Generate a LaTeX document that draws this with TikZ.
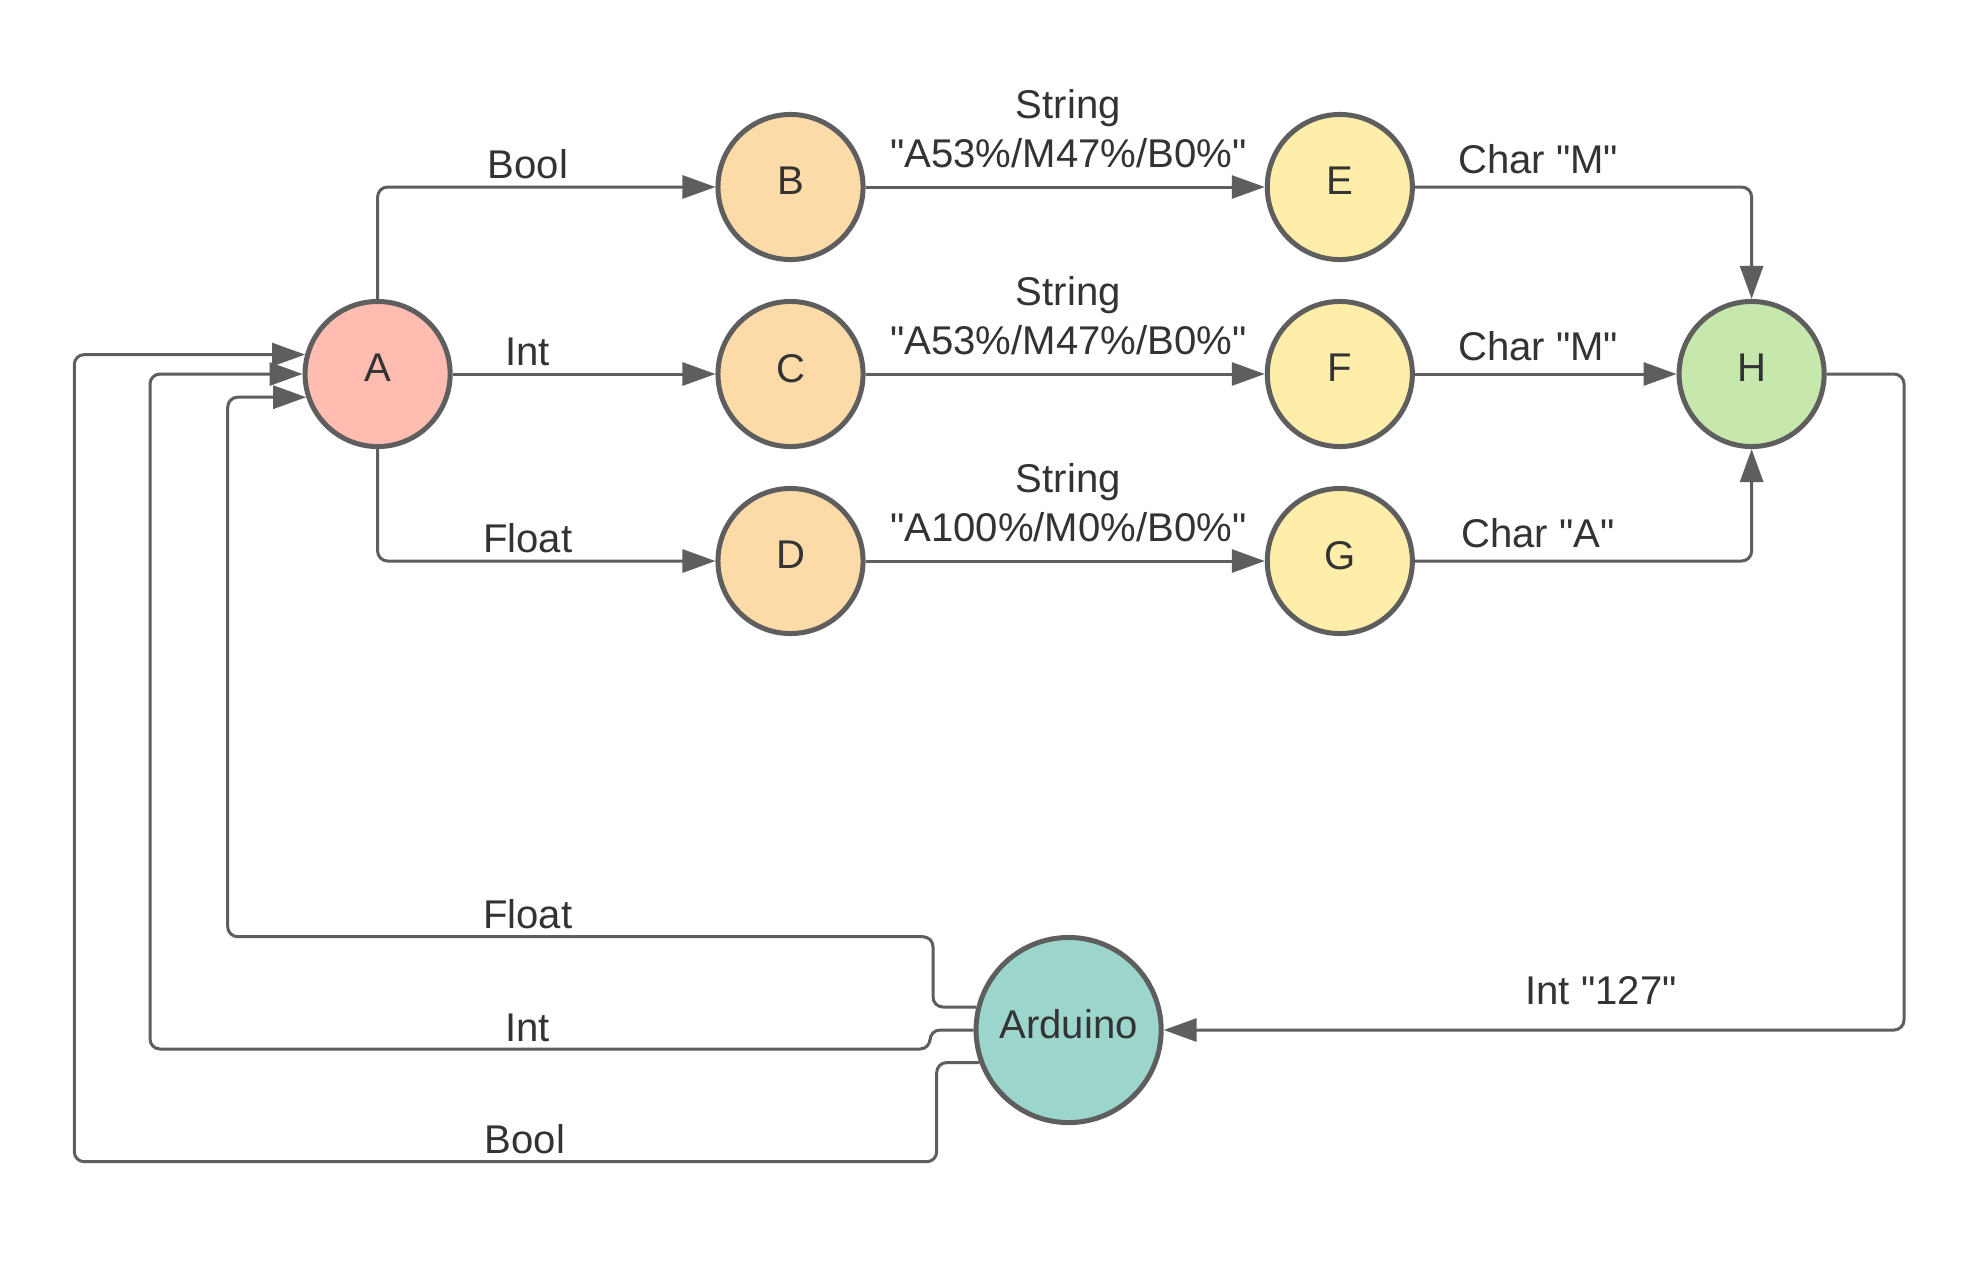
\documentclass[tikz,border=0pt]{standalone}
\usepackage{fontspec}
\setmainfont{Liberation Sans}[Ligatures=TeXOff]
\usetikzlibrary{arrows.meta}
\definecolor{linec}{HTML}{5E5E5E}
\definecolor{textc}{HTML}{333333}
\definecolor{fillA}{HTML}{FFBCB1}
\definecolor{fillB}{HTML}{FDDBA9}
\definecolor{fillE}{HTML}{FFEDAA}
\definecolor{fillH}{HTML}{C6E8AC}
\definecolor{fillR}{HTML}{9BD5CB}
\tikzset{
  state/.style={circle, draw=linec, line width=0.05cm, minimum size=1.45cm, inner sep=0pt, text depth=0.12cm, text=textc, font=\fontsize{11.4}{13.7}\selectfont},
  bigstate/.style={state, minimum size=1.85cm},
  conn/.style={draw=linec, line width=0.03cm, rounded corners=0.1cm, -{Triangle[length=0.33cm,width=0.23cm]}},
  lbl/.style={anchor=base, text=textc, font=\fontsize{11.4}{13.7}\selectfont, inner sep=0pt}
}
\begin{document}
\begin{tikzpicture}[x=0.01cm, y=-0.01cm]
\fill[white] (0,0) rectangle (1980,1275);
\useasboundingbox (0,0) rectangle (1980,1275);

\node[state, fill=fillA] (A) at (377.6,374) {A};
\node[state, fill=fillB] (B) at (790.5,187) {B};
\node[state, fill=fillB] (C) at (790.5,374) {C};
\node[state, fill=fillB] (D) at (790.5,561) {D};
\node[state, fill=fillE] (E) at (1339.8,187) {E};
\node[state, fill=fillE] (F) at (1339.8,374) {F};
\node[state, fill=fillE] (G) at (1339.8,561) {G};
\node[state, fill=fillH] (H) at (1751.6,374) {H};
\node[bigstate, fill=fillR] (R) at (1068.6,1030) {Arduino};

% A -> B, C, D
\draw[conn] (A.north) |- (B.west);
\draw[conn] (A.east) -- (C.west);
\draw[conn] (A.south) |- (D.west);
\node[lbl] (lAB) at (527.8,178) {Bool};
\node[lbl] (lAC) at (527.8,365) {Int};
\node[lbl] (lAD) at (527.8,552) {Float};

% B,C,D -> E,F,G
\draw[conn] (B.east) -- (E.west);
\draw[conn] (C.east) -- (F.west);
\draw[conn] (D.east) -- (G.west);
\node[lbl] (lBE1) at (1068.3,118.5) {String};
\node[lbl] (lBE2) at (1068.3,167) {"A53\%/M47\%/B0\%"};
\node[lbl] (lCF1) at (1068.3,305.5) {String};
\node[lbl] (lCF2) at (1068.3,354) {"A53\%/M47\%/B0\%"};
\node[lbl] (lDG1) at (1068.3,492.5) {String};
\node[lbl] (lDG2) at (1068.3,541) {"A100\%/M0\%/B0\%"};

% E,F,G -> H
\draw[conn] (E.east) -| (H.north);
\draw[conn] (F.east) -- (H.west);
\draw[conn] (G.east) -| (H.south);
\node[lbl] (lEH) at (1538,173.5) {Char "M"};
\node[lbl] (lFH) at (1538,360.5) {Char "M"};
\node[lbl] (lGH) at (1538,547.5) {Char "A"};

% H -> Arduino
\coordinate (hr) at (1904,374);
\draw[conn] (H.east) -- (hr) |- (R.east);
\node[lbl] (lHR) at (1601,1004) {Int "127"};

% Arduino -> A
\draw[conn] (R.166.4) -| (933,936.7) -- (227.7,936.7) |- (A.198.2);
\draw[conn] (R.west) -| (930,1049) -- (150,1049) |- (A.west);
\draw[conn] (R.200) -| (936.7,1161.7) -- (74.3,1161.7) |- (A.165.6);
\node[lbl] (lRA1) at (527.8,928) {Float};
\node[lbl] (lRA2) at (527.8,1041) {Int};
\node[lbl] (lRA3) at (525,1153) {Bool};
\end{tikzpicture}
\end{document}
